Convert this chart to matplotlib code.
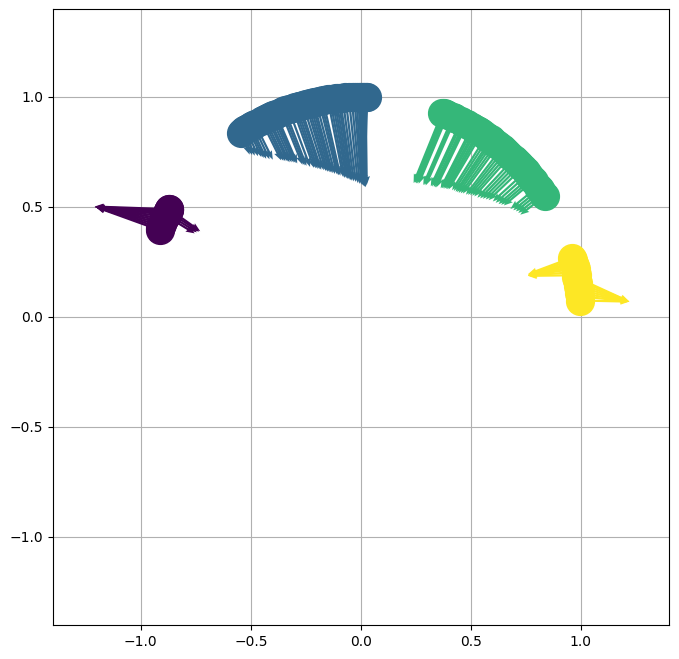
#!/usr/bin/env python3
"""Four clusters of points on the unit circle with their arrows."""

import matplotlib

matplotlib.use("Agg")
import matplotlib.pyplot as plt

TICKS = [-1.0, -0.5, 0.0, 0.5, 1.0]

PURPLE_X = [-0.915, -0.911, -0.907, -0.903, -0.899, -0.895, -0.89, -0.886, -0.882, -0.878, -0.874, -0.87,
            -0.87, -0.875, -0.88, -0.885]
PURPLE_Y = [0.395, 0.405, 0.415, 0.425, 0.435, 0.445, 0.455, 0.465, 0.472, 0.48, 0.485, 0.49,
            0.49, 0.48, 0.47, 0.46]
PURPLE_U = [-0.29, -0.293, -0.297, -0.302, -0.306, -0.31, -0.315, -0.32, -0.325, -0.33, -0.335, -0.34,
            0.14, 0.14, 0.135, 0.13]
PURPLE_V = [0.105, 0.095, 0.085, 0.075, 0.065, 0.055, 0.045, 0.035, 0.028, 0.02, 0.015, 0.012,
            -0.10, -0.092, -0.085, -0.08]

BLUE_X = [-0.545, -0.538, -0.530, -0.521, -0.512, -0.505, -0.498, -0.489, -0.480, -0.452, -0.443, -0.435,
          -0.426, -0.418, -0.409, -0.400, -0.392, -0.385, -0.362, -0.353, -0.345, -0.328, -0.310, -0.301, -0.292,
          -0.283, -0.275, -0.262, -0.250, -0.241, -0.232, -0.223, -0.215, -0.203, -0.190, -0.181, -0.172,
          -0.150, -0.140, -0.130, -0.121, -0.112, -0.103, -0.095, -0.083, -0.070, -0.055, -0.042, -0.030,
          -0.021, -0.012, -0.005, 0.002, 0.008, 0.015, 0.022, 0.030]
BLUE_Y = [0.838, 0.843, 0.848, 0.854, 0.859, 0.863, 0.867, 0.872, 0.877, 0.892, 0.896, 0.900,
          0.905, 0.908, 0.913, 0.917, 0.920, 0.923, 0.932, 0.935, 0.939, 0.945, 0.951, 0.954, 0.956,
          0.959, 0.961, 0.965, 0.968, 0.970, 0.973, 0.975, 0.977, 0.979, 0.982, 0.983, 0.985,
          0.989, 0.990, 0.992, 0.993, 0.994, 0.995, 0.995, 0.9965, 0.998, 0.998, 0.999, 0.9995,
          1.0, 1.0, 1.0, 1.0, 1.0, 1.0, 1.0, 1.0]
BLUE_U = [0.040, 0.044, 0.048, 0.054, 0.060, 0.064, 0.068, 0.074, 0.080, 0.090, 0.091, 0.092,
          0.093, 0.094, 0.0945, 0.095, 0.0955, 0.096, 0.097, 0.0975, 0.098, 0.0975, 0.097, 0.0965, 0.096,
          0.0955, 0.095, 0.0935, 0.092, 0.091, 0.090, 0.0885, 0.087, 0.085, 0.083, 0.081, 0.079,
          0.070, 0.0675, 0.065, 0.0625, 0.060, 0.0575, 0.055, 0.051, 0.047, 0.042, 0.0375, 0.033,
          0.029, 0.025, 0.0225, 0.020, 0.012, 0.004, 0.005, -0.015]
BLUE_V = [-0.100, -0.107, -0.115, -0.123, -0.132, -0.140, -0.148, -0.155, -0.162, -0.180, -0.186, -0.192,
          -0.198, -0.205, -0.210, -0.215, -0.220, -0.225, -0.240, -0.246, -0.252, -0.263, -0.273, -0.278, -0.283,
          -0.287, -0.292, -0.298, -0.305, -0.310, -0.315, -0.319, -0.323, -0.329, -0.335, -0.339, -0.343,
          -0.353, -0.358, -0.362, -0.366, -0.370, -0.373, -0.376, -0.380, -0.384, -0.390, -0.394, -0.398,
          -0.401, -0.405, -0.408, -0.410, -0.408, -0.405, -0.400, -0.395]

GREEN_X = [0.370, 0.376, 0.382, 0.388, 0.395, 0.418, 0.424, 0.430, 0.455, 0.462, 0.470, 0.476, 0.482, 0.505,
           0.512, 0.520, 0.527, 0.535, 0.542, 0.550, 0.570, 0.580, 0.590, 0.597, 0.605, 0.615, 0.625,
           0.640, 0.650, 0.660, 0.670, 0.680, 0.695, 0.705, 0.715, 0.725, 0.735, 0.750,
           0.760, 0.770, 0.778, 0.785, 0.805, 0.813, 0.820, 0.828, 0.835]
GREEN_Y = [0.929, 0.927, 0.924, 0.922, 0.919, 0.908, 0.906, 0.903, 0.890, 0.887, 0.883, 0.879, 0.876, 0.863,
           0.859, 0.854, 0.850, 0.845, 0.840, 0.835, 0.822, 0.815, 0.807, 0.802, 0.796, 0.788, 0.781,
           0.768, 0.760, 0.751, 0.742, 0.733, 0.719, 0.709, 0.699, 0.689, 0.678, 0.662,
           0.650, 0.638, 0.628, 0.619, 0.593, 0.582, 0.572, 0.561, 0.550]
GREEN_U = [-0.130, -0.1305, -0.131, -0.1315, -0.132, -0.134, -0.1345, -0.135, -0.137, -0.1375, -0.138, -0.1385, -0.139, -0.142,
           -0.1435, -0.145, -0.1465, -0.148, -0.1495, -0.151, -0.155, -0.157, -0.159, -0.1595, -0.160, -0.1605, -0.161,
           -0.162, -0.1625, -0.163, -0.1635, -0.164, -0.165, -0.1625, -0.160, -0.157, -0.154, -0.150,
           -0.147, -0.144, -0.140, -0.135, -0.125, -0.120, -0.115, -0.1125, -0.110]
GREEN_V = [-0.320, -0.318, -0.317, -0.315, -0.313, -0.308, -0.306, -0.305, -0.296, -0.294, -0.292, -0.290, -0.287, -0.278,
           -0.274, -0.270, -0.267, -0.263, -0.259, -0.255, -0.246, -0.242, -0.238, -0.235, -0.232, -0.226, -0.220,
           -0.212, -0.205, -0.197, -0.191, -0.185, -0.177, -0.170, -0.162, -0.155, -0.147, -0.137,
           -0.131, -0.125, -0.118, -0.112, -0.102, -0.097, -0.092, -0.088, -0.085]

YELLOW_X = [0.96, 0.963, 0.966, 0.97, 0.973, 0.976, 0.98, 0.983,
            0.98, 0.983, 0.985, 0.988, 0.99, 0.992, 0.995, 0.998]
YELLOW_Y = [0.27, 0.26, 0.25, 0.24, 0.23, 0.22, 0.205, 0.19,
            0.18, 0.17, 0.155, 0.14, 0.125, 0.11, 0.095, 0.075]
YELLOW_U = [-0.20, -0.203, -0.206, -0.21, -0.213, -0.216, -0.22, -0.223,
            0.24, 0.237, 0.235, 0.232, 0.23, 0.228, 0.225, 0.222]
YELLOW_V = [-0.075, -0.068, -0.06, -0.05, -0.042, -0.032, -0.017, -0.003,
            -0.11, -0.10, -0.085, -0.07, -0.055, -0.04, -0.025, -0.005]

CLUSTERS = [
    (PURPLE_X, PURPLE_Y, PURPLE_U, PURPLE_V, "#440154"),
    (BLUE_X, BLUE_Y, BLUE_U, BLUE_V, "#31688e"),
    (GREEN_X, GREEN_Y, GREEN_U, GREEN_V, "#35b779"),
    (YELLOW_X, YELLOW_Y, YELLOW_U, YELLOW_V, "#fde725"),
]

fig = plt.figure(figsize=(6.79, 6.59), dpi=100)
ax = fig.add_axes([52.8 / 679, 34 / 659, 616 / 679, 616 / 659])

for x, y, u, v, color in CLUSTERS:
    ax.scatter(x, y, s=400, color=color, zorder=3)
    ax.quiver(x, y, u, v, color=color, angles="xy", scale_units="xy", scale=1,
              width=0.0036, headwidth=3, headlength=4, headaxislength=3.6, zorder=3)

ax.set_xlim(-1.4, 1.4)
ax.set_ylim(-1.4, 1.4)
ax.set_xticks(TICKS)
ax.set_yticks(TICKS)
ax.grid(True)
fig.savefig("out.png", dpi=100)
